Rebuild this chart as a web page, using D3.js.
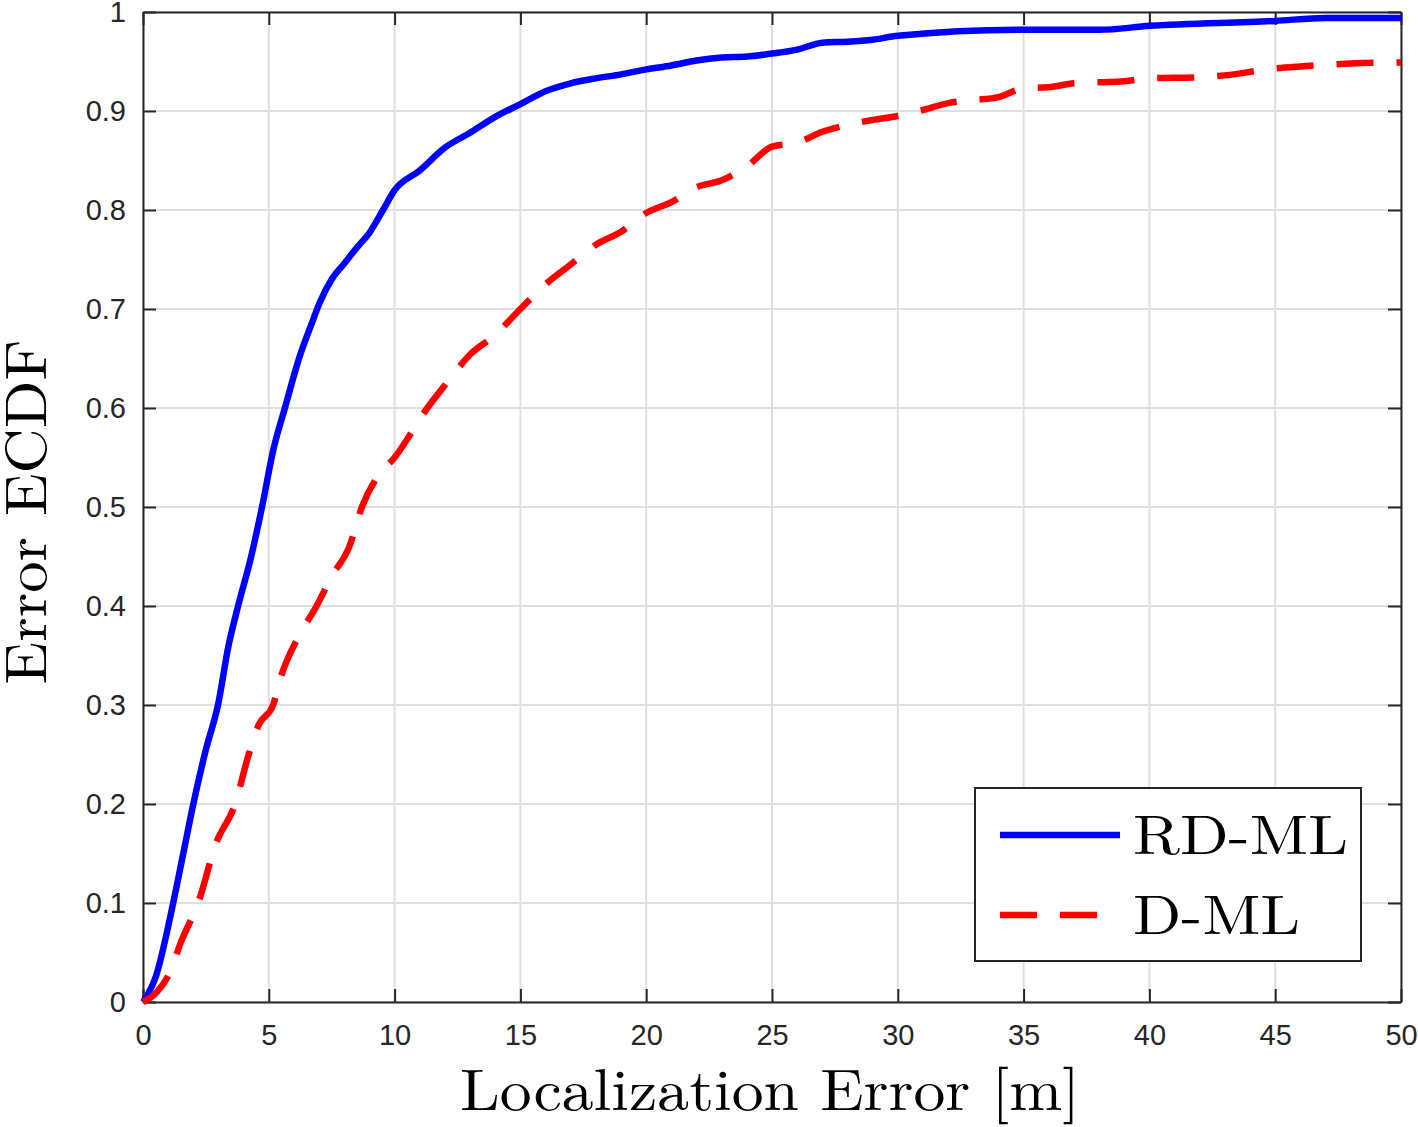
<!DOCTYPE html>
<html>
<head>
<meta charset="utf-8">
<script src="https://cdn.jsdelivr.net/npm/d3@7"></script>
<style>
  body { margin: 0; background: #fff; }
</style>
</head>
<body>
<div id="container"></div>
<script>
/* CONSTANTS AND GLOBALS */
const width = 1418,
  height = 1127,
  margin = { top: 12, right: 17, bottom: 125, left: 143 };

// series: [error in m, ECDF]
const rdmlX = [0, 0.5, 1.2, 1.6, 2.0, 2.5, 2.98, 3.4, 3.78, 4.3, 4.73, 5.2, 5.64, 6.2, 6.7, 7.0, 7.5, 8, 8.5, 9, 9.54, 10, 11, 12, 13, 14, 15, 16, 17, 18, 19, 20, 21, 22, 23, 24, 25, 26, 27, 28, 29, 30, 35, 38, 40, 45, 47, 50];
const rdmlY = [0, 0.025, 0.1, 0.15, 0.2, 0.255, 0.3, 0.36, 0.4, 0.45, 0.5, 0.56, 0.6, 0.65, 0.685, 0.705, 0.73, 0.746, 0.762, 0.777, 0.8, 0.82, 0.84, 0.863, 0.878, 0.894, 0.907, 0.92, 0.928, 0.933, 0.937, 0.942, 0.946, 0.951, 0.954, 0.955, 0.958, 0.962, 0.969, 0.97, 0.972, 0.976, 0.982, 0.982, 0.986, 0.991, 0.994, 0.994];

const dmlX = [0, 0.55, 1.07, 1.5, 2.19, 2.9, 3.66, 4.2, 4.6, 5.17, 5.5, 6.2, 6.9, 7.5, 8.2, 8.7, 9.3, 10, 11.3, 12, 13, 14, 15, 16, 17, 18, 19, 20, 21, 22, 23, 24, 25, 26, 27, 28, 29, 30, 31, 32, 33, 34, 35, 36, 37, 38, 39, 40, 42, 43, 45, 46, 48, 50];
const dmlY = [0, 0.01, 0.03, 0.06, 0.1, 0.16, 0.2, 0.25, 0.28, 0.3, 0.33, 0.37, 0.4, 0.43, 0.46, 0.5, 0.53, 0.55, 0.6, 0.623, 0.654, 0.674, 0.7, 0.725, 0.745, 0.765, 0.778, 0.797, 0.808, 0.823, 0.83, 0.844, 0.864, 0.868, 0.879, 0.886, 0.891, 0.895, 0.901, 0.908, 0.911, 0.914, 0.923, 0.924, 0.928, 0.929, 0.93, 0.933, 0.934, 0.936, 0.943, 0.945, 0.948, 0.949];

const xTicks = [0, 5, 10, 15, 20, 25, 30, 35, 40, 45, 50];
const yTicks = [0, 0.1, 0.2, 0.3, 0.4, 0.5, 0.6, 0.7, 0.8, 0.9, 1];
const seriesNames = ["RD-ML", "D-ML"];
const seriesColors = ["#0000ff", "#ff0000"];
const seriesDash = [null, "37,23"];

const axisColor = "#262626";
const gridColor = "#dfdfdf";

const svg = d3.select("#container").append("svg")
  .attr("width", width)
  .attr("height", height);

const xScale = d3.scaleLinear().domain([0, 50]).range([margin.left, width - margin.right]);
const yScale = d3.scaleLinear().domain([0, 1]).range([height - margin.bottom, margin.top]);

// grid
svg.append("g")
  .selectAll("line.vx")
  .data(xTicks)
  .join("line")
  .attr("x1", d => xScale(d)).attr("x2", d => xScale(d))
  .attr("y1", yScale(0)).attr("y2", yScale(1))
  .attr("stroke", gridColor).attr("stroke-width", 2);

svg.append("g")
  .selectAll("line.hy")
  .data(yTicks)
  .join("line")
  .attr("y1", d => yScale(d)).attr("y2", d => yScale(d))
  .attr("x1", xScale(0)).attr("x2", xScale(50))
  .attr("stroke", gridColor).attr("stroke-width", 2);

// axes (inward ticks, box on)
const tickFont = "'Liberation Sans', Arial, Helvetica, sans-serif";

const xBottom = svg.append("g")
  .attr("transform", `translate(0,${yScale(0)})`)
  .call(d3.axisBottom(xScale).tickValues(xTicks).tickSizeInner(-13).tickSizeOuter(0).tickPadding(22));
const xTop = svg.append("g")
  .attr("transform", `translate(0,${yScale(1)})`)
  .call(d3.axisTop(xScale).tickValues(xTicks).tickSizeInner(-13).tickSizeOuter(0).tickFormat(""));
const yLeft = svg.append("g")
  .attr("transform", `translate(${xScale(0)},0)`)
  .call(d3.axisLeft(yScale).tickValues(yTicks).tickSizeInner(-13).tickSizeOuter(0).tickPadding(17)
    .tickFormat(d => d === 0 || d === 1 ? d3.format("d")(d) : d3.format(".1f")(d)));
const yRight = svg.append("g")
  .attr("transform", `translate(${xScale(50)},0)`)
  .call(d3.axisRight(yScale).tickValues(yTicks).tickSizeInner(-13).tickSizeOuter(0).tickFormat(""));

[xBottom, xTop, yLeft, yRight].forEach(g => {
  g.select(".domain").attr("stroke", axisColor).attr("stroke-width", 2);
  g.selectAll(".tick line").attr("stroke", axisColor).attr("stroke-width", 2);
  g.selectAll(".tick text")
    .attr("fill", axisColor)
    .style("font-family", tickFont)
    .style("font-size", "29px");
});

// curves
const lineGen = d3.line()
  .x(d => xScale(d[0]))
  .y(d => yScale(d[1]))
  .curve(d3.curveMonotoneX);

const seriesData = [
  d3.zip(rdmlX, rdmlY),
  d3.zip(dmlX, dmlY)
];

svg.append("g")
  .selectAll("path")
  .data(seriesData)
  .join("path")
  .attr("d", d => lineGen(d))
  .attr("fill", "none")
  .attr("stroke", (d, i) => seriesColors[i])
  .attr("stroke-width", 6.5)
  .attr("stroke-dasharray", (d, i) => seriesDash[i])
  .attr("stroke-linejoin", "round");

// axis labels
const serifFont = "'Latin Modern Roman', 'CMU Serif', 'Liberation Serif', 'DejaVu Serif', serif";

svg.append("text")
  .attr("x", 770)
  .attr("y", 1110)
  .attr("text-anchor", "middle")
  .attr("textLength", 620)
  .attr("lengthAdjust", "spacingAndGlyphs")
  .style("font-family", serifFont)
  .style("font-size", "58px")
  .attr("fill", "#000")
  .text("Localization Error [m]");

svg.append("text")
  .attr("transform", `translate(46,512) rotate(-90)`)
  .attr("text-anchor", "middle")
  .attr("textLength", 345)
  .attr("lengthAdjust", "spacingAndGlyphs")
  .style("font-family", serifFont)
  .style("font-size", "58px")
  .attr("fill", "#000")
  .text("Error ECDF");

// legend
const legend = svg.append("g");
legend.append("rect")
  .attr("x", 975).attr("y", 788)
  .attr("width", 386).attr("height", 173)
  .attr("fill", "#fff")
  .attr("stroke", axisColor)
  .attr("stroke-width", 2);

const legendRows = legend.selectAll("g.row")
  .data(seriesNames)
  .join("g")
  .attr("transform", (d, i) => `translate(0,${835 + i * 80})`);

legendRows.append("line")
  .attr("x1", 1000).attr("x2", 1120)
  .attr("y1", 0).attr("y2", 0)
  .attr("stroke", (d, i) => seriesColors[i])
  .attr("stroke-width", 6.5)
  .attr("stroke-dasharray", (d, i) => seriesDash[i]);

legendRows.append("text")
  .attr("x", 1133)
  .attr("y", 19)
  .attr("textLength", (d, i) => i === 0 ? 215 : 167)
  .attr("lengthAdjust", "spacingAndGlyphs")
  .style("font-family", serifFont)
  .style("font-size", "56px")
  .attr("fill", "#000")
  .text(d => d);
</script>
</body>
</html>
